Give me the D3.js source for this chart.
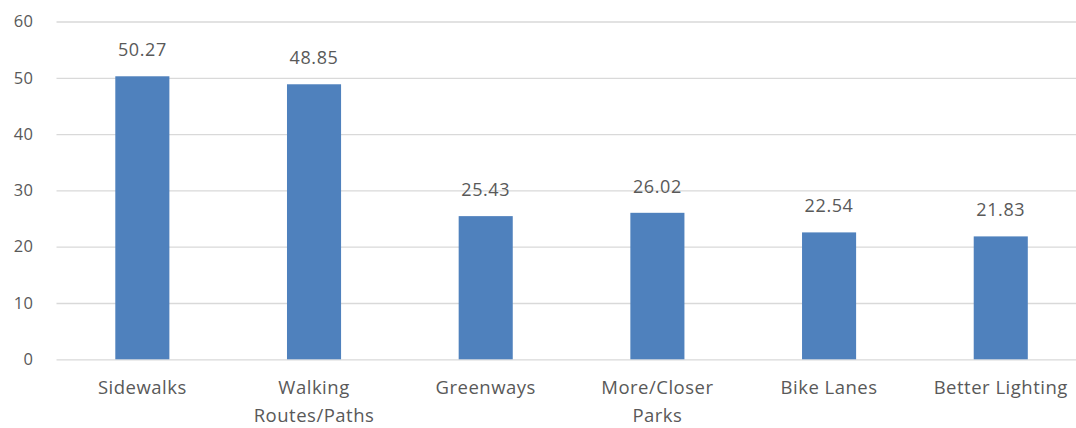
<!DOCTYPE html>
<html>
<head>
<meta charset="utf-8">
<script src="https://cdn.jsdelivr.net/npm/d3@7"></script>
<style>
  html, body { margin: 0; padding: 0; background: #fff; }
  svg { display: block; }
  text { font-family: "Open Sans", "Noto Sans", sans-serif; fill: #595959; }
</style>
</head>
<body>
<svg id="chart" width="1076" height="428"></svg>
<script>
// Survey results: improvements that would encourage walking / activity
const categories = [["Sidewalks"], ["Walking", "Routes/Paths"], ["Greenways"], ["More/Closer", "Parks"], ["Bike Lanes"], ["Better Lighting"]];
const values = [50.27, 48.85, 25.43, 26.02, 22.54, 21.83];
const yTicks = [0, 10, 20, 30, 40, 50, 60];

const svg = d3.select("#chart");
const plot = { left: 56.5, right: 1086.6, top: 21.5, bottom: 359.3 };

const keys = categories.map((c, i) => i);
const x = d3.scaleBand().domain(keys).range([plot.left, plot.right]).paddingInner(0.685).paddingOuter(0.3425);
const y = d3.scaleLinear().domain([0, 60]).range([plot.bottom, plot.top]);

// Horizontal gridlines with tick labels
const yAxis = d3.axisLeft(y).tickValues(yTicks).tickSize(-(plot.right - plot.left)).tickPadding(23).tickFormat(d3.format("d"));
const gy = svg.append("g").attr("transform", `translate(${plot.left},0)`).call(yAxis);
gy.select(".domain").remove();
gy.selectAll(".tick line").attr("stroke", "#d9d9d9").attr("stroke-width", 1.3);
gy.selectAll(".tick text").attr("font-size", 16.5).attr("fill", "#595959").style("letter-spacing", "0.5px")
  .attr("font-family", "\"Open Sans\", sans-serif");

// Bars
svg.append("g").selectAll("rect").data(values).join("rect")
  .attr("x", (d, i) => x(i))
  .attr("width", x.bandwidth())
  .attr("y", d => y(d))
  .attr("height", d => y(0) - y(d))
  .attr("fill", "#4f81bd");

// Value labels above bars
svg.append("g").selectAll("text").data(values).join("text")
  .attr("x", (d, i) => x(i) + x.bandwidth() / 2)
  .attr("y", d => y(d) - 20)
  .attr("text-anchor", "middle")
  .attr("font-size", 18)
  .style("letter-spacing", "0.6px")
  .text(d => d.toFixed(2));

// Category labels (wrapped onto two lines where needed)
const xg = svg.append("g");
categories.forEach((lines, i) => {
  const cx = x(i) + x.bandwidth() / 2;
  const t = xg.append("text")
    .attr("text-anchor", "middle")
    .attr("font-size", 18.5)
    .style("letter-spacing", "0.5px");
  lines.forEach((s, j) => {
    t.append("tspan").attr("x", cx).attr("y", 394 + j * 28).text(s);
  });
});
</script>
</body>
</html>
